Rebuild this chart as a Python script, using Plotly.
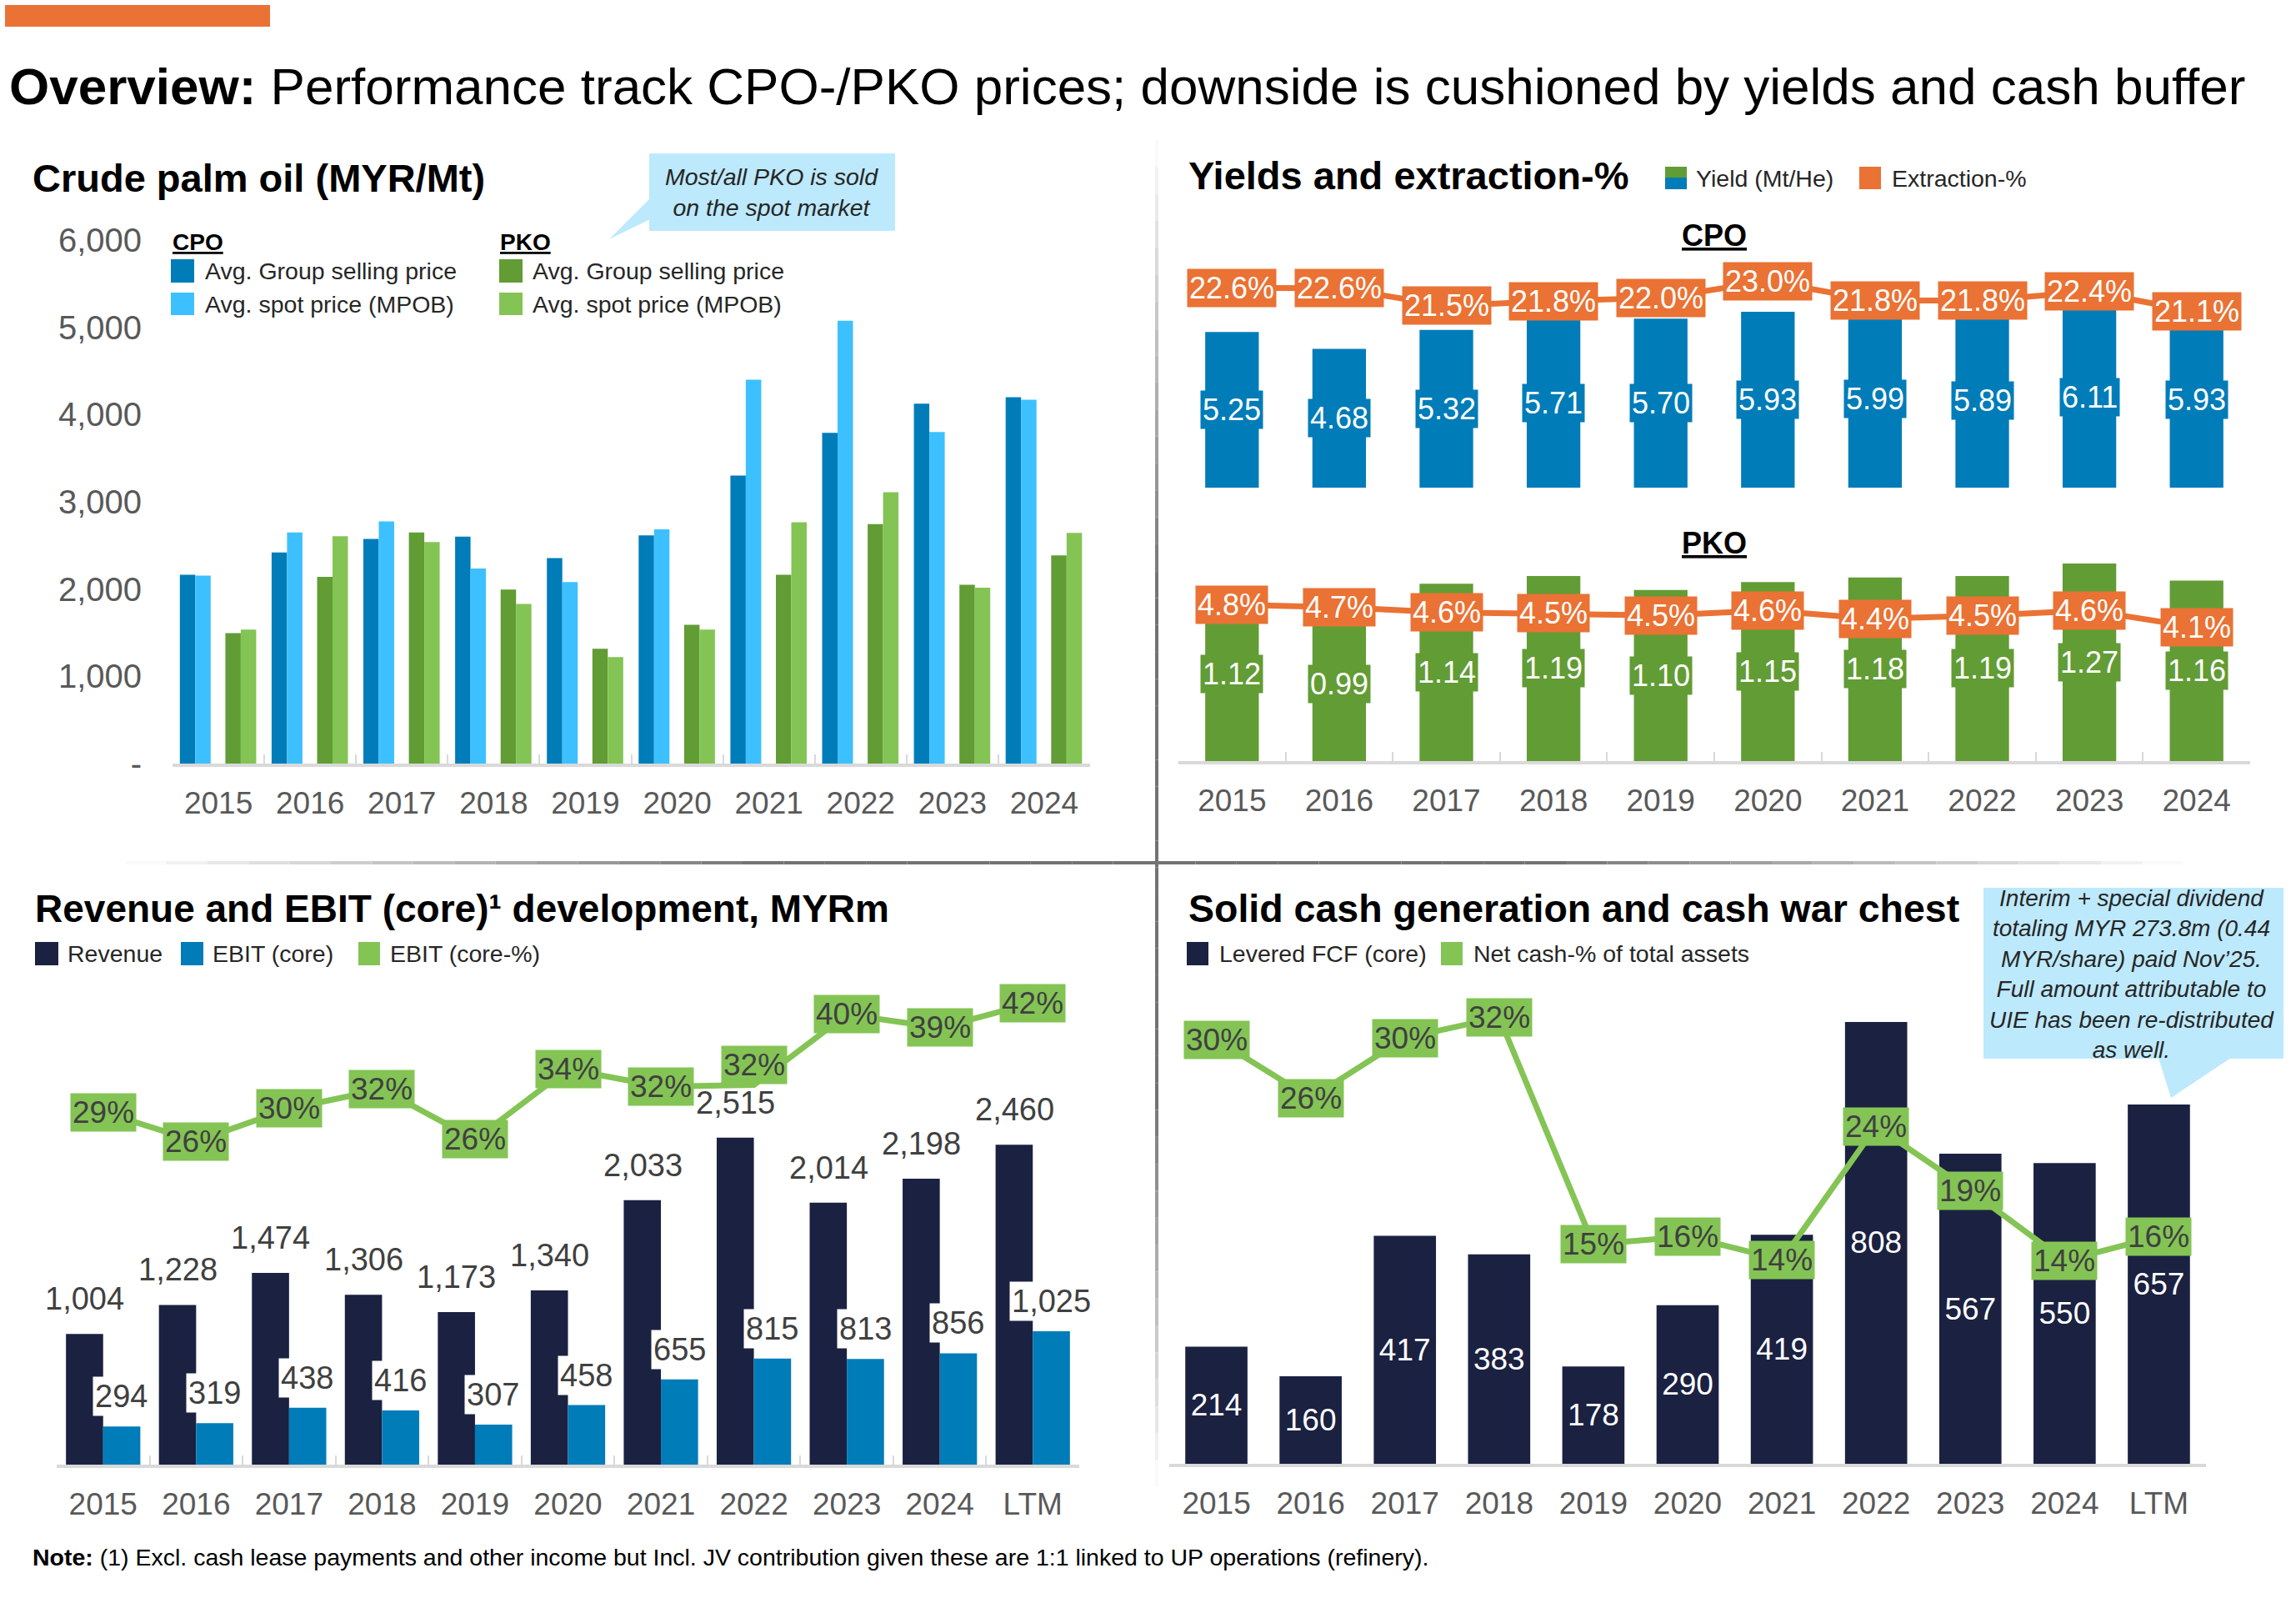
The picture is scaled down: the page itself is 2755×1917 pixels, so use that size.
import plotly.graph_objects as go

W, H = 2755, 1917

# ---------------- data ----------------
years = ["2015", "2016", "2017", "2018", "2019", "2020", "2021", "2022", "2023", "2024"]
years_ltm = years + ["LTM"]

# Crude palm oil prices, MYR/Mt
cpo_group = [2165, 2420, 2575, 2600, 2355, 2615, 3300, 3790, 4125, 4200]
cpo_spot = [2155, 2650, 2775, 2235, 2080, 2685, 4400, 5075, 3800, 4170]
pko_group = [1495, 2140, 2650, 1995, 1315, 1590, 2165, 2745, 2050, 2385]
pko_spot = [1535, 2605, 2540, 1830, 1220, 1535, 2765, 3110, 2015, 2645]

# Yields (Mt/He) and extraction-%
cpo_yield = [5.25, 4.68, 5.32, 5.71, 5.70, 5.93, 5.99, 5.89, 6.11, 5.93]
cpo_extraction = [22.58, 22.56, 21.47, 21.77, 21.96, 23.0, 21.8, 21.8, 22.36, 21.1]
pko_yield = [1.12, 0.99, 1.14, 1.19, 1.10, 1.15, 1.18, 1.19, 1.27, 1.16]
pko_extraction = [4.80, 4.72, 4.56, 4.53, 4.47, 4.62, 4.36, 4.46, 4.62, 4.10]

# Revenue and EBIT (core), MYRm
revenue = [1004, 1228, 1474, 1306, 1173, 1340, 2033, 2515, 2014, 2198, 2460]
ebit = [294, 319, 438, 416, 307, 458, 655, 815, 813, 856, 1025]
ebit_margin = [29.3, 26.0, 29.7, 31.9, 26.2, 34.2, 32.2, 32.4, 40.4, 38.9, 41.7]

# Cash generation
fcf = [214, 160, 417, 383, 178, 290, 419, 808, 567, 550, 657]
net_cash_pct = [30.34, 26.0, 30.45, 32.0, 15.15, 15.74, 14.0, 23.9, 19.14, 13.94, 15.74]

price_ticks = [0, 1000, 2000, 3000, 4000, 5000, 6000]
price_ticktext = ["-", "1,000", "2,000", "3,000", "4,000", "5,000", "6,000"]

# ---------------- style ----------------
NAVY = "#1b2141"
BLUE = "#007cb9"
LIGHT_BLUE = "#3dc0ff"
GREEN = "#629c35"
LIGHT_GREEN = "#84c455"
ORANGE = "#ea7234"
CALLOUT = "#bde9fc"
DARK = "#404040"
TEXT = "#262626"
GREY = "#595959"
AXIS = "#d9d9d9"
FONT = "Liberation Sans, Arial, sans-serif"


def px(x):
    return x / W


def py(y):
    return 1 - y / H


fig = go.Figure()

# --- top left: prices ---
for vals, color, off in [(cpo_group, BLUE, -0.42), (cpo_spot, LIGHT_BLUE, -0.252),
                         (pko_group, GREEN, 0.076), (pko_spot, LIGHT_GREEN, 0.244)]:
    fig.add_trace(go.Bar(x=years, y=vals, marker=dict(color=color, line=dict(width=0)),
                         width=0.168, offset=off, xaxis="x", yaxis="y", hoverinfo="skip"))

# --- top right: CPO yield / extraction ---
fig.add_trace(go.Bar(x=years, y=cpo_yield, marker=dict(color=BLUE, line=dict(width=0)),
                     width=0.5, offset=-0.25, xaxis="x2", yaxis="y2", hoverinfo="skip"))
fig.add_trace(go.Scatter(x=years, y=cpo_extraction, mode="lines", line=dict(color=ORANGE, width=7),
                         xaxis="x2", yaxis="y3", hoverinfo="skip"))
# --- PKO ---
fig.add_trace(go.Bar(x=years, y=pko_yield, marker=dict(color=GREEN, line=dict(width=0)),
                     width=0.5, offset=-0.25, xaxis="x3", yaxis="y4", hoverinfo="skip"))
fig.add_trace(go.Scatter(x=years, y=pko_extraction, mode="lines", line=dict(color=ORANGE, width=7),
                         xaxis="x3", yaxis="y5", hoverinfo="skip"))

# --- bottom left: revenue / EBIT ---
fig.add_trace(go.Bar(x=years_ltm, y=revenue, marker=dict(color=NAVY, line=dict(width=0)),
                     width=0.4, offset=-0.4, xaxis="x4", yaxis="y6", hoverinfo="skip"))
fig.add_trace(go.Bar(x=years_ltm, y=ebit, marker=dict(color=BLUE, line=dict(width=0)),
                     width=0.4, offset=0.0, xaxis="x4", yaxis="y6", hoverinfo="skip"))
fig.add_trace(go.Scatter(x=years_ltm, y=ebit_margin, mode="lines", line=dict(color=LIGHT_GREEN, width=7),
                         xaxis="x4", yaxis="y7", hoverinfo="skip"))

# --- bottom right: FCF / net cash ---
fig.add_trace(go.Bar(x=years_ltm, y=fcf, marker=dict(color=NAVY, line=dict(width=0)),
                     width=0.66, offset=-0.33, xaxis="x5", yaxis="y8", hoverinfo="skip",
                     text=[str(v) for v in fcf], textposition="inside", insidetextanchor="middle",
                     textangle=0, constraintext="none",
                     textfont=dict(color="white", size=37, family=FONT)))
fig.add_trace(go.Scatter(x=years_ltm, y=net_cash_pct, mode="lines", line=dict(color=LIGHT_GREEN, width=7),
                         xaxis="x5", yaxis="y9", hoverinfo="skip"))

# ---------------- annotations ----------------
ann = []


def note(x, y, text, size=28, color=TEXT, xanchor="left", yanchor="middle", **kw):
    ann.append(dict(x=px(x), y=py(y), xref="paper", yref="paper", text=text, showarrow=False,
                    xanchor=xanchor, yanchor=yanchor, font=dict(size=size, color=color, family=FONT), **kw))


def label(i, y, xref, yref, text, bg, color, size=36, xshift=0, yshift=0):
    # i is the category index on the x axis
    ann.append(dict(x=i, y=y, xref=xref, yref=yref, text=text, showarrow=False,
                    xanchor="center", yanchor="middle", xshift=xshift, yshift=yshift,
                    bgcolor=bg, borderpad=2, font=dict(size=size, color=color, family=FONT)))


note(9, 104, "<b>Overview:</b> Performance track CPO-/PKO prices; downside is cushioned by yields and cash buffer",
     size=62, color="black")
note(37, 213, "<b>Crude palm oil (MYR/Mt)</b>", size=47, color="black")
note(1424, 211, "<b>Yields and extraction-%</b>", size=47, color="black")
note(40, 1090, "<b>Revenue and EBIT (core)¹ development, MYRm</b>", size=46, color="black")
note(1424, 1090, "<b>Solid cash generation and cash war chest</b>", size=46.5, color="black")

# top-left legend
note(205, 290, "<b><u>CPO</u></b>", size=28, color="black")
note(598, 290, "<b><u>PKO</u></b>", size=28, color="black")
note(244, 325, "Avg. Group selling price", size=28.5)
note(244, 365, "Avg. spot price (MPOB)", size=28.5)
note(637, 325, "Avg. Group selling price", size=28.5)
note(637, 365, "Avg. spot price (MPOB)", size=28.5)

# top-right legend
note(2033, 214, "Yield (Mt/He)", size=28.5)
note(2268, 214, "Extraction-%", size=28.5)
note(2057, 282, "<b><u>CPO</u></b>", size=36, color="black", xanchor="center")
note(2057, 651, "<b><u>PKO</u></b>", size=36, color="black", xanchor="center")

# bottom legends
note(79, 1144, "Revenue", size=28.5)
note(253, 1144, "EBIT (core)", size=28.5)
note(466, 1144, "EBIT (core-%)", size=28.5)
note(1461, 1144, "Levered FCF (core)", size=28.5)
note(1766, 1144, "Net cash-% of total assets", size=28.5)

# callouts
note(926, 230, "<i>Most/all PKO is sold<br>on the spot market</i>", size=28.5, xanchor="center")
note(2558, 1168, "<i>Interim + special dividend<br>totaling MYR 273.8m (0.44<br>MYR/share) paid Nov’25.<br>"
     "Full amount attributable to<br>UIE has been re-distributed<br>as well.</i>", size=28, xanchor="center")

note(37, 1868, "<b>Note:</b> (1) Excl. cash lease payments and other income but Incl. JV contribution "
     "given these are 1:1 linked to UP operations (refinery).", size=28.5, color="black")

# data labels
for i, v in enumerate(cpo_yield):
    label(i, v / 2, "x2", "y2", f"{v:.2f}", BLUE, "white")
for i, v in enumerate(cpo_extraction):
    label(i, v, "x2", "y3", f"{v:.1f}%", ORANGE, "white")
for i, v in enumerate(pko_yield):
    label(i, v / 2, "x3", "y4", f"{v:.2f}", GREEN, "white")
for i, v in enumerate(pko_extraction):
    label(i, v, "x3", "y5", f"{v:.1f}%", ORANGE, "white")

for i, v in enumerate(revenue):
    label(i, v, "x4", "y6", f"{v:,}", "rgba(0,0,0,0)", DARK, size=38, xshift=-22, yshift=42)
for i, v in enumerate(ebit):
    label(i, v, "x4", "y6", f"{v:,}", "white", DARK, size=38, xshift=22, yshift=36)
for i, v in enumerate(ebit_margin):
    label(i, v, "x4", "y7", f"{v:.0f}%", LIGHT_GREEN, DARK, size=37,
          yshift=24 if years_ltm[i] == "2022" else 0)
for i, v in enumerate(net_cash_pct):
    label(i, v, "x5", "y9", f"{v:.0f}%", LIGHT_GREEN, DARK, size=37)

# ---------------- shapes ----------------
shapes = []


def rect(x0, y0, x1, y1, color):
    shapes.append(dict(type="rect", xref="paper", yref="paper", x0=px(x0), x1=px(x1),
                       y0=py(y1), y1=py(y0), fillcolor=color, line=dict(width=0), layer="below"))


def tri(pts, color):
    path = "M " + " L ".join(f"{px(a)},{py(b)}" for a, b in pts) + " Z"
    shapes.append(dict(type="path", xref="paper", yref="paper", path=path,
                       fillcolor=color, line=dict(width=0), layer="below"))


rect(6, 6, 324, 32, ORANGE)

rect(205, 311, 233, 339, BLUE)
rect(205, 351, 233, 378, LIGHT_BLUE)
rect(599, 311, 627, 339, GREEN)
rect(599, 351, 627, 378, LIGHT_GREEN)

rect(1998, 200, 2024, 213, GREEN)
rect(1998, 213, 2024, 227, BLUE)
rect(2231, 200, 2257, 227, ORANGE)

rect(42, 1130, 70, 1158, NAVY)
rect(217, 1130, 244, 1158, BLUE)
rect(430, 1130, 456, 1158, LIGHT_GREEN)
rect(1424, 1130, 1450, 1158, NAVY)
rect(1729, 1130, 1755, 1158, LIGHT_GREEN)

rect(779, 184, 1074, 277, CALLOUT)
tri([(780, 238), (780, 263), (731, 287)], CALLOUT)
rect(2380, 1065, 2740, 1270, CALLOUT)
tri([(2590, 1269), (2677, 1269), (2605, 1317)], CALLOUT)


def shade(t):
    g = int(255 - 140 * min(1.0, 1.6 * t))
    return f"rgb({g},{g},{g})"


# panel dividers fading out towards their ends
CX, CY = 1388, 1035
n = 50
x_start, x_end = 150, 2620
for i in range(n):
    xa = x_start + i * (x_end - x_start) / n
    xb = x_start + (i + 1) * (x_end - x_start) / n
    xm = (xa + xb) / 2
    half = (CX - x_start) if xm < CX else (x_end - CX)
    t = 1 - abs(xm - CX) / half
    shapes.append(dict(type="line", xref="paper", yref="paper", x0=px(xa), x1=px(xb), y0=py(CY), y1=py(CY),
                       line=dict(color=shade(t), width=4)))
y_start, y_end = 168, 1784
for i in range(n):
    ya = y_start + i * (y_end - y_start) / n
    yb = y_start + (i + 1) * (y_end - y_start) / n
    ym = (ya + yb) / 2
    half = (CY - y_start) if ym < CY else (y_end - CY)
    t = 1 - abs(ym - CY) / half
    shapes.append(dict(type="line", xref="paper", yref="paper", x0=px(CX), x1=px(CX), y0=py(ya), y1=py(yb),
                       line=dict(color=shade(t), width=4)))

# ---------------- axes ----------------
cat_axis = dict(type="category", showgrid=False, zeroline=False, showline=True, linecolor=AXIS, linewidth=4,
                ticks="inside", tickson="boundaries", ticklen=11, tickwidth=2, tickcolor=AXIS,
                tickfont=dict(size=37, color=GREY, family=FONT), ticklabelstandoff=12,
                automargin=False, fixedrange=True)
hidden = dict(visible=False, showgrid=False, zeroline=False, automargin=False, fixedrange=True)
r10 = [-0.5, len(years) - 0.5]
r11 = [-0.5, len(years_ltm) - 0.5]

fig.update_layout(
    width=W, height=H, autosize=False,
    margin=dict(l=0, r=0, t=0, b=0, pad=0, autoexpand=False),
    paper_bgcolor="white", plot_bgcolor="white",
    font=dict(family=FONT, color=TEXT),
    showlegend=False,
    barmode="overlay",
    xaxis=dict(cat_axis, domain=[px(207), px(1308)], range=r10, anchor="y"),
    yaxis=dict(domain=[py(916), py(288)], range=[0, 6000], tickvals=price_ticks, ticktext=price_ticktext,
               showgrid=False, zeroline=False, showline=False, ticks="",
               tickfont=dict(size=40, color=GREY, family=FONT), ticklabelstandoff=36, anchor="x",
               automargin=False, fixedrange=True),
    xaxis2=dict(hidden, type="category", domain=[px(1414), px(2700)], range=r10, anchor="y2"),
    yaxis2=dict(hidden, domain=[py(585), py(300)], range=[0, 8.012], anchor="x2"),
    yaxis3=dict(hidden, overlaying="y2", range=[10.166, 24.933], anchor="x2"),
    xaxis3=dict(cat_axis, domain=[px(1414), px(2700)], range=r10, anchor="y4"),
    yaxis4=dict(hidden, domain=[py(913), py(650)], range=[0, 1.409], anchor="x3"),
    yaxis5=dict(hidden, overlaying="y4", range=[-0.013, 6.731], anchor="x3"),
    xaxis4=dict(cat_axis, domain=[px(68), px(1295)], range=r11, anchor="y6"),
    yaxis6=dict(hidden, domain=[py(1757), py(1150)], range=[0, 3891], anchor="x4"),
    yaxis7=dict(hidden, overlaying="y6", range=[-10.73, 46.74], anchor="x4"),
    xaxis5=dict(cat_axis, domain=[px(1403), px(2647)], range=r11, anchor="y8", ticks=""),
    yaxis8=dict(hidden, domain=[py(1756), py(1150)], range=[0, 923.8], anchor="x5"),
    yaxis9=dict(hidden, overlaying="y8", range=[-1.13, 36.35], anchor="x5"),
    annotations=ann,
    shapes=shapes,
)

page_fix = (
    "document.documentElement.style.margin='0';"
    "document.documentElement.style.overflow='hidden';"
    "document.body.style.margin='0';"
    "document.body.style.overflow='hidden';"
    "var d=document.getElementById('{plot_id}');"
    "d.style.position='absolute';d.style.left='0px';d.style.top='0px';"
)
fig.write_html("out.html", config={"displayModeBar": False}, post_script=page_fix)
